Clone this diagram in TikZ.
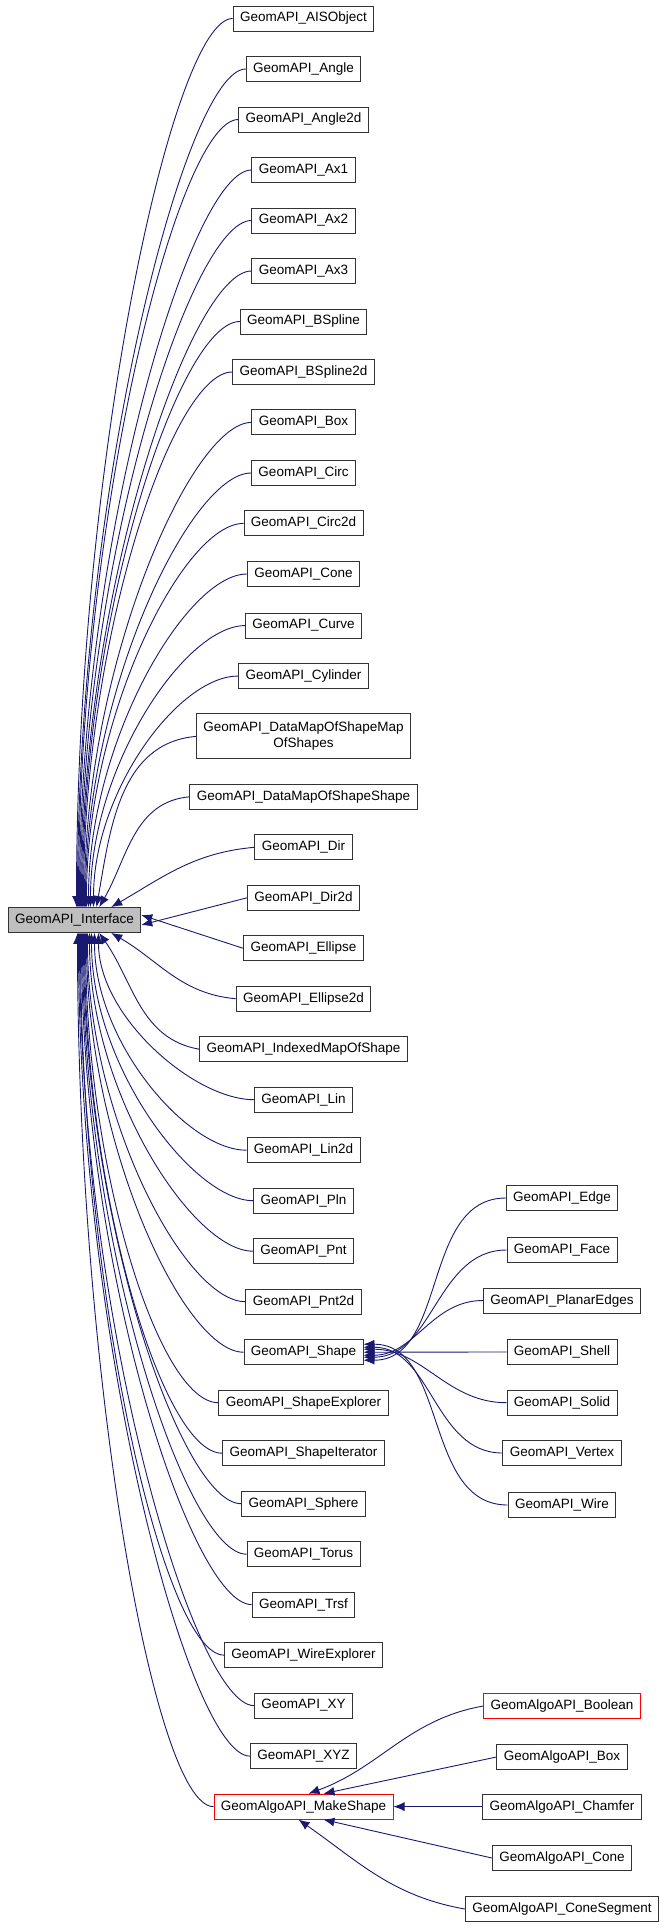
\documentclass[tikz,border=0pt]{standalone}
\usepackage{fontspec}
\setmainfont{Liberation Sans}
\usetikzlibrary{arrows.meta}
\definecolor{edgec}{HTML}{191970}
\begin{document}
\begin{tikzpicture}[x=1pt,y=-1pt,
  box/.style={draw=black!80,line width=0.9pt,fill=white,inner xsep=7pt,inner ysep=0pt,minimum height=25pt,font=\fontsize{13.5}{16}\selectfont},
  redbox/.style={box,draw=red},
  edge/.style={draw=edgec,line width=0.9pt,{Latex[length=11pt,width=9pt]}-}]
\useasboundingbox (0,0) rectangle (665,1928);
\node[box,fill=black!25] (iface) at (74.5,920) {GeomAPI\_Interface};
% upper children
\foreach \n/\t/\y/\s in {
 ais/AISObject/18.5/2, angle/Angle/69/3, angled/Angle2d/119.5/4, axa/Ax1/170/5,
 axb/Ax2/220.5/6, axc/Ax3/271/7, bsp/BSpline/321.5/8, bspd/BSpline2d/372/9,
 box/Box/422.4/10, circ/Circ/473/11, circd/Circ2d/523.4/12, cone/Cone/574/14,
 curve/Curve/625.6/16, cyl/Cylinder/676/19}{
 \node[box] (\n) at (303.5,\y) {GeomAPI\_\t};
 \pgfmathsetmacro\c{0.5*(907-\y)}
 \draw[edge] ([xshift=\s pt]iface.north) .. controls +(0,-\c) and +(-60,0) .. (\n.west);
}
\node[box,align=center,minimum height=45pt] (dmm) at (303.5,736.4) {GeomAPI\_DataMapOfShapeMap\\OfShapes};
\draw[edge] ([xshift=22pt]iface.north) to[out=80,in=185] (dmm.west);
\node[box] (dms) at (303.5,796.8) {GeomAPI\_DataMapOfShapeShape};
\draw[edge] ([xshift=-42pt]iface.north east) to[out=60,in=185] (dms.west);
\node[box] (dir) at (303.5,847.3) {GeomAPI\_Dir};
\draw[edge] ([xshift=-30pt]iface.north east) to[out=30,in=185] (dir.west);
\node[box] (dird) at (303.5,897.8) {GeomAPI\_Dir2d};
\draw[edge] ([yshift=-5pt]iface.east) -- (dird.west);
\node[box] (ell) at (303.5,948.3) {GeomAPI\_Ellipse};
\draw[edge] ([yshift=5pt]iface.east) -- (ell.west);
\node[box] (elld) at (303.5,998.7) {GeomAPI\_Ellipse2d};
\draw[edge] ([xshift=-30pt]iface.south east) to[out=-30,in=175] (elld.west);
\node[box] (imap) at (303.5,1049.2) {GeomAPI\_IndexedMapOfShape};
\draw[edge] ([xshift=-42pt]iface.south east) to[out=-55,in=170] (imap.west);
% lower children
\foreach \n/\t/\y/\s in {
 lin/Lin/1099.7/24, lind/Lin2d/1150.2/20, pln/Pln/1200.7/17, pnt/Pnt/1251.2/15,
 pntd/Pnt2d/1301.7/13, shape/Shape/1352.2/12, sexp/ShapeExplorer/1402.7/11,
 sit/ShapeIterator/1453.2/10, sph/Sphere/1503.7/9, tor/Torus/1554.2/8,
 trsf/Trsf/1604.6/7, wexp/WireExplorer/1655.1/6, xy/XY/1705.6/5, xyz/XYZ/1756.1/4,
 mk/MakeShape/1806.6/3}{
 \pgfmathsetmacro\c{0.5*(\y-933)}
 \ifx\t\empty\fi
}
\foreach \n/\t/\y/\s in {
 lin/Lin/1099.7/24, lind/Lin2d/1150.2/20, pln/Pln/1200.7/17, pnt/Pnt/1251.2/15,
 pntd/Pnt2d/1301.7/13, shape/Shape/1352.2/12, sexp/ShapeExplorer/1402.7/11,
 sit/ShapeIterator/1453.2/10, sph/Sphere/1503.7/9, tor/Torus/1554.2/8,
 trsf/Trsf/1604.6/7, wexp/WireExplorer/1655.1/6, xy/XY/1705.6/5, xyz/XYZ/1756.1/4}{
 \node[box] (\n) at (303.5,\y) {GeomAPI\_\t};
 \pgfmathsetmacro\c{0.5*(\y-933)}
 \draw[edge] ([xshift=\s pt]iface.south) .. controls +(0,\c) and +(-60,0) .. (\n.west);
}
\node[redbox] (mk) at (303.5,1806.6) {GeomAlgoAPI\_MakeShape};
\draw[edge] ([xshift=3pt]iface.south) .. controls +(0,437) and +(-60,0) .. (mk.west);
% shape subclasses
\foreach \n/\t/\y/\d in {
 edge/Edge/1198/-8, face/Face/1250/-5, pe/PlanarEdges/1300.5/-3, shell/Shell/1352/0,
 solid/Solid/1402.7/3, vert/Vertex/1453/5, wire/Wire/1505/8}{
 \node[box] (\n) at (562,\y) {GeomAPI\_\t};
 \draw[edge] ([yshift=\d pt]shape.east) to[out=0,in=180] (\n.west);
}
% makeshape subclasses
\node[redbox] (bool) at (562,1706) {GeomAlgoAPI\_Boolean};
\node[box] (abox) at (562,1757) {GeomAlgoAPI\_Box};
\node[box] (cham) at (562,1806.6) {GeomAlgoAPI\_Chamfer};
\node[box] (acone) at (562,1858) {GeomAlgoAPI\_Cone};
\node[box] (cseg) at (562,1909) {GeomAlgoAPI\_ConeSegment};
\draw[edge] ([xshift=5pt]mk.north) to[out=20,in=190] (bool.west);
\draw[edge] ([xshift=20pt]mk.north) -- (abox.west);
\draw[edge] (mk.east) -- (cham.west);
\draw[edge] ([xshift=20pt]mk.south) -- (acone.west);
\draw[edge] ([xshift=-5pt]mk.south) to[out=-35,in=170] (cseg.west);
\end{tikzpicture}
\end{document}
